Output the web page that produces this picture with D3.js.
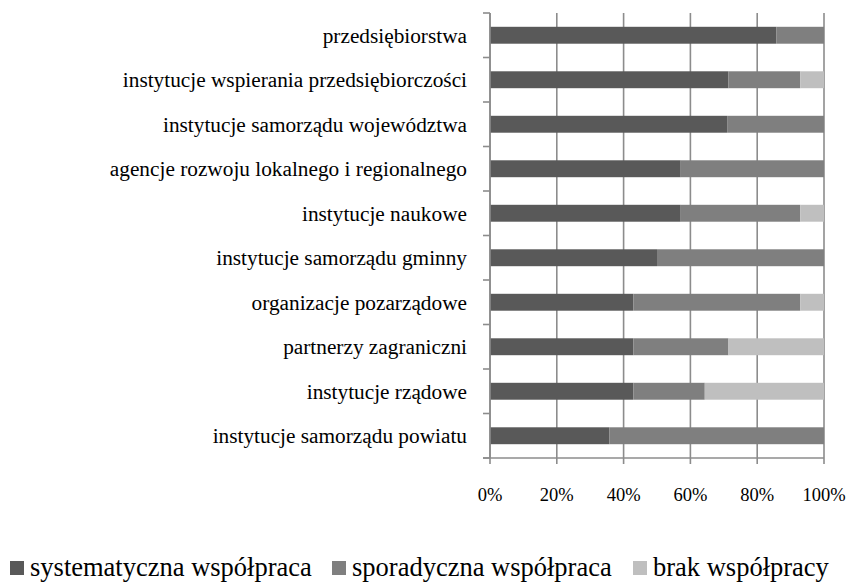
<!DOCTYPE html>
<html>
<head>
<meta charset="utf-8">
<script src="https://cdn.jsdelivr.net/npm/d3@7"></script>
<style>
  body { margin: 0; background: #fff; }
</style>
</head>
<body>
<div id="vis"></div>
<script>
// categories, top to bottom
var categories = [
  'przedsiębiorstwa',
  'instytucje wspierania przedsiębiorczości',
  'instytucje samorządu województwa',
  'agencje rozwoju lokalnego i regionalnego',
  'instytucje naukowe',
  'instytucje samorządu gminny',
  'organizacje pozarządowe',
  'partnerzy zagraniczni',
  'instytucje rządowe',
  'instytucje samorządu powiatu'
];

// shares in %
var systematyczna = [85.7, 71.4, 71.0, 57.1, 57.1, 50.0, 42.9, 42.9, 42.9, 35.7];
var sporadyczna   = [14.3, 21.5, 29.0, 42.9, 35.8, 50.0, 50.0, 28.5, 21.4, 64.3];
var brak          = [ 0.0,  7.1,  0.0,  0.0,  7.1,  0.0,  7.1, 28.6, 35.7,  0.0];

var seriesNames = ['systematyczna współpraca', 'sporadyczna współpraca', 'brak współpracy'];
var seriesColors = ['#595959', '#7f7f7f', '#bfbfbf'];
var tickValues = [0, 20, 40, 60, 80, 100];

var fontFamily = 'Liberation Serif';

var svgWidth = 850, svgHeight = 582;
var margin = {top: 13, left: 490, right: 26, bottom: 124};
var plotWidth = svgWidth - margin.left - margin.right,
    plotHeight = svgHeight - margin.top - margin.bottom;

var svg = d3.select('#vis').append('svg')
  .attr('width', svgWidth)
  .attr('height', svgHeight);

var graph = svg.append('g')
  .attr('transform', 'translate(' + margin.left + ',' + margin.top + ')');

var xScale = d3.scaleLinear().domain([0, 100]).range([0, plotWidth]);
var yScale = d3.scaleBand().domain(categories).range([0, plotHeight]).paddingInner(0.62).paddingOuter(0.31);
var yOuter = d3.scaleBand().domain(categories).range([0, plotHeight]);

// stacked data
var rows = categories.map(function(c, i) {
  return {cat: c, s0: systematyczna[i], s1: sporadyczna[i], s2: brak[i]};
});
var stack = d3.stack().keys(['s0', 's1', 's2'])(rows);

var gridColor = '#8c8c8c';

// vertical gridlines incl. the little ticks below the axis
graph.selectAll('.grid')
  .data(tickValues)
  .enter().append('line')
  .attr('class', 'grid')
  .attr('x1', function(d) { return xScale(d); })
  .attr('x2', function(d) { return xScale(d); })
  .attr('y1', 0)
  .attr('y2', plotHeight + 6)
  .attr('stroke', gridColor)
  .attr('stroke-width', 1.6);

// bars
graph.selectAll('.series')
  .data(stack)
  .enter().append('g')
  .attr('class', 'series')
  .attr('fill', function(d, i) { return seriesColors[i]; })
  .selectAll('rect')
  .data(function(d) { return d; })
  .enter().append('rect')
  .attr('x', function(d) { return xScale(d[0]); })
  .attr('width', function(d) { return xScale(d[1]) - xScale(d[0]); })
  .attr('y', function(d) { return yScale(d.data.cat); })
  .attr('height', yScale.bandwidth());

// y axis line + ticks at band boundaries
graph.append('line')
  .attr('x1', 0).attr('x2', 0)
  .attr('y1', 0).attr('y2', plotHeight)
  .attr('stroke', gridColor).attr('stroke-width', 1.6);

var bounds = categories.map(function(c) { return yOuter(c); }).concat([plotHeight]);
graph.selectAll('.ytick')
  .data(bounds)
  .enter().append('line')
  .attr('class', 'ytick')
  .attr('x1', -7).attr('x2', 0)
  .attr('y1', function(d) { return d; })
  .attr('y2', function(d) { return d; })
  .attr('stroke', gridColor).attr('stroke-width', 1.6);

// x axis line
graph.append('line')
  .attr('x1', -7).attr('x2', plotWidth)
  .attr('y1', plotHeight).attr('y2', plotHeight)
  .attr('stroke', gridColor).attr('stroke-width', 1.6);

// category labels
graph.selectAll('.ylabel')
  .data(categories)
  .enter().append('text')
  .attr('class', 'ylabel')
  .attr('x', -23)
  .attr('y', function(d) { return yOuter(d) + yOuter.bandwidth() / 2; })
  .attr('dy', '0.35em')
  .attr('text-anchor', 'end')
  .attr('font-family', fontFamily)
  .attr('font-size', 21.3)
  .text(function(d) { return d; });

// tick labels
graph.selectAll('.xlabel')
  .data(tickValues)
  .enter().append('text')
  .attr('class', 'xlabel')
  .attr('x', function(d) { return xScale(d); })
  .attr('y', plotHeight + 37)
  .attr('dy', '0.35em')
  .attr('text-anchor', 'middle')
  .attr('font-family', fontFamily)
  .attr('font-size', 18.5)
  .text(function(d) { return d + '%'; });

// legend
var legendX = [10, 332, 633];
var legend = svg.selectAll('.legend')
  .data(seriesNames)
  .enter().append('g')
  .attr('class', 'legend')
  .attr('transform', function(d, i) { return 'translate(' + legendX[i] + ',561)'; });

legend.append('rect')
  .attr('width', 14).attr('height', 14)
  .attr('fill', function(d, i) { return seriesColors[i]; });

legend.append('text')
  .attr('x', 20)
  .attr('y', 14.5)
  .attr('font-family', fontFamily)
  .attr('font-size', 26.5)
  .text(function(d) { return d; });
</script>
</body>
</html>
